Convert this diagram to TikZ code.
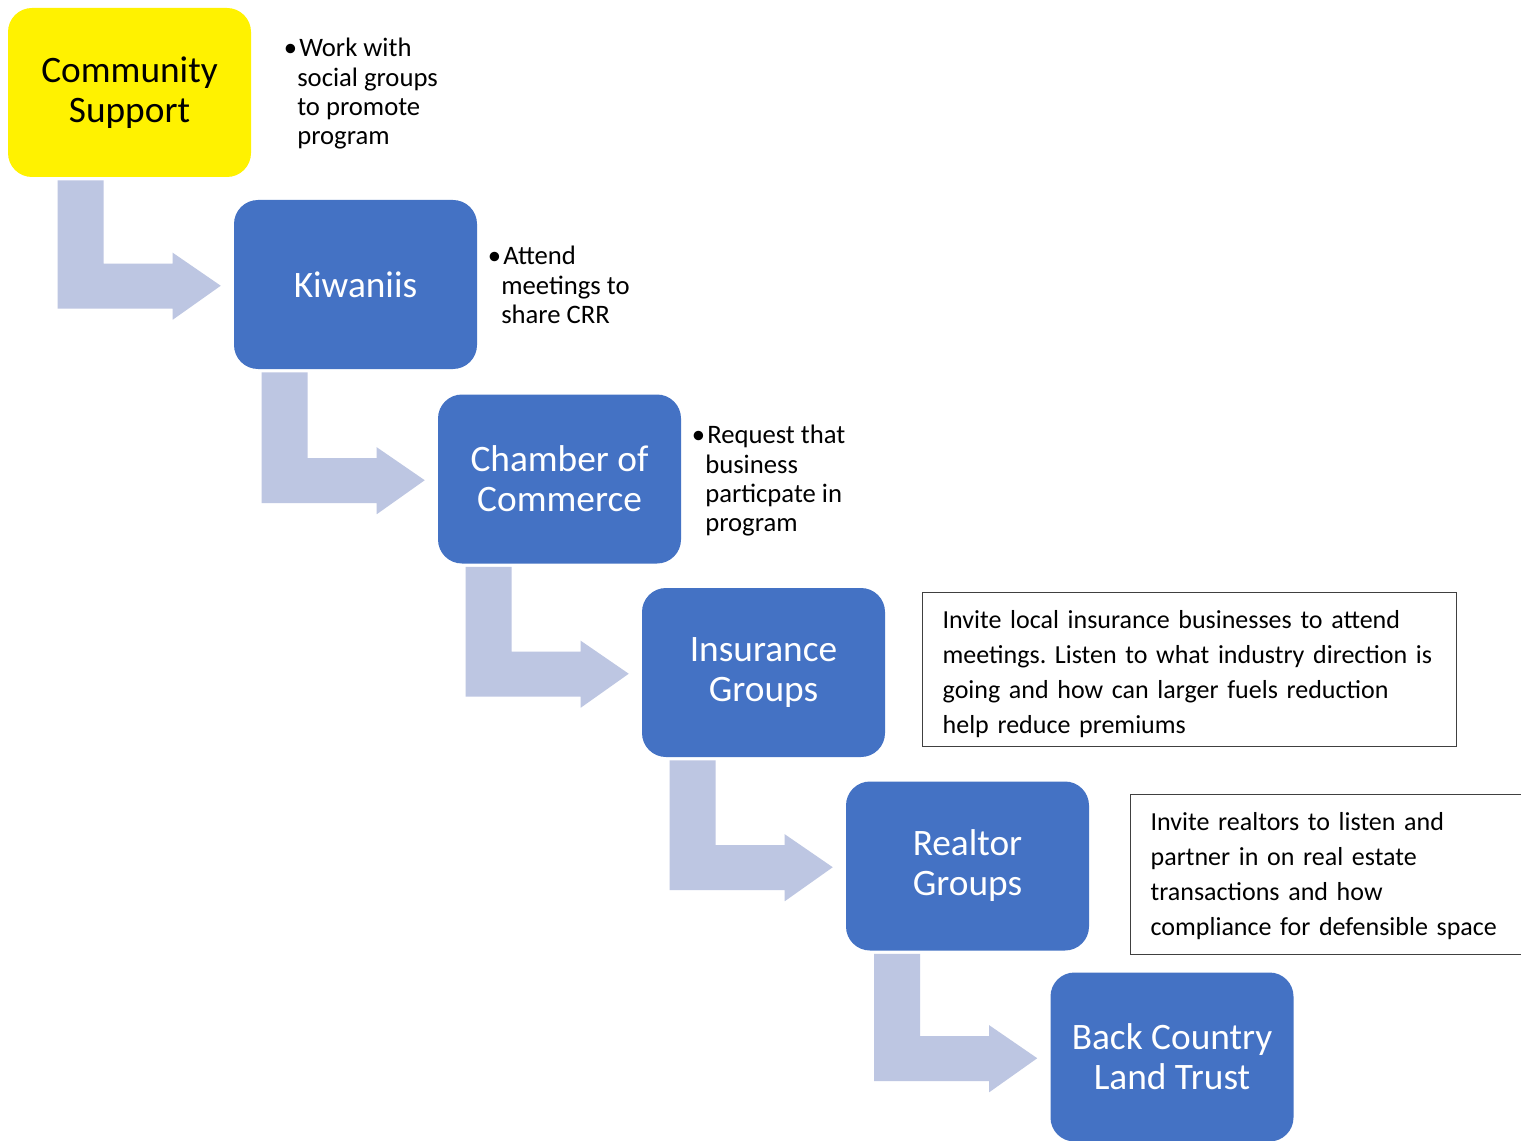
\documentclass[tikz,border=0pt]{standalone}
\usepackage{fontspec}
\setmainfont{Carlito}
\frenchspacing
\usetikzlibrary{calc}
\definecolor{boxblue}{RGB}{68,114,196}
\definecolor{arrowfill}{RGB}{189,198,226}
\definecolor{edgegray}{RGB}{64,64,64}
\tikzset{
  stage/.style={rectangle, rounded corners=18pt, fill=boxblue, text=white,
    minimum width=182.25pt, minimum height=126.75pt, inner sep=0pt, align=center,
    font=\fontsize{28}{30}\selectfont},
  note/.style={anchor=north west, inner sep=0pt, align=left,
    font=\fontsize{20}{22}\selectfont},
  descbox/.style={draw=edgegray, line width=1pt, anchor=north west, align=left,
    inner xsep=15pt, inner ysep=0pt, font=\fontsize{19.5}{26.25}\selectfont},
  bentfill/.style={fill=arrowfill}
}
\newcommand\desctext[2]{\noindent\raisebox{#1}[\height][\depth]{\begin{tabular}{@{}l@{}}#2\end{tabular}}}
\newcommand\bentarrow[2]{%
  \path ($(#1.south)+(0,3)$) coordinate (ba-top)
        ($(#2.north west)+(-176,0)$) coordinate (ba-l)
        ($(#2.north west)+(-130,0)$) coordinate (ba-r);
  \fill[bentfill] (ba-l |- ba-top) -- (ba-r |- ba-top)
    -- ($(#2.north west)+(-130,64)$) -- ($(#2.north west)+(-61,64)$)
    -- ($(#2.north west)+(-61,53)$) -- ($(#2.north west)+(-13,86)$)
    -- ($(#2.north west)+(-61,120)$) -- ($(#2.north west)+(-61,109)$)
    -- ($(#2.north west)+(-176,109)$) -- cycle;}
\begin{document}
\begin{tikzpicture}[x=0.75pt,y=-0.75pt]
\clip (0,0) rectangle (1521,1141);
\fill[white] (0,0) rectangle (1521,1141);
% stages
\node[stage, fill=yellow, text=black] (cs) at (129.5,92.5) {Community\\Support};
\node[stage] (kw) at (355.5,284.5) {Kiwaniis};
\node[stage] (cc) at (559.5,479) {Chamber of\\Commerce};
\node[stage] (ig) at (763.5,672.5) {Insurance\\Groups};
\node[stage] (rg) at (967.5,866) {Realtor\\Groups};
\node[stage] (bc) at (1172,1057) {Back Country\\Land Trust};
% bent arrows
\bentarrow{cs}{kw}
\bentarrow{kw}{cc}
\bentarrow{cc}{ig}
\bentarrow{ig}{rg}
\bentarrow{rg}{bc}
% notes
\node[note] (n1) at (297,38) {\llap{•}\kern1.5pt Work with\\social groups\\to promote\\program};
\node[note] (n2) at (501,246) {\llap{•}\kern1.5pt Attend\\meetings to\\share CRR};
\node[note] (n3) at (705,425) {\llap{•}\kern1.5pt Request that\\business\\particpate in\\program};
% description boxes
\node[descbox, text width=370.5pt, minimum height=115.5pt] (d1) at (922,592)
  {\desctext{-3pt}{Invite local insurance businesses to attend\\meetings. Listen to what industry direction is\\going and how can larger fuels reduction\\help reduce premiums}};
\node[descbox, text width=300pt, minimum height=120pt] (d2) at (1130,794)
  {\desctext{-1pt}{Invite realtors to listen and\\partner in on real estate\\transactions and how\\compliance for defensible space}};
\end{tikzpicture}
\end{document}
